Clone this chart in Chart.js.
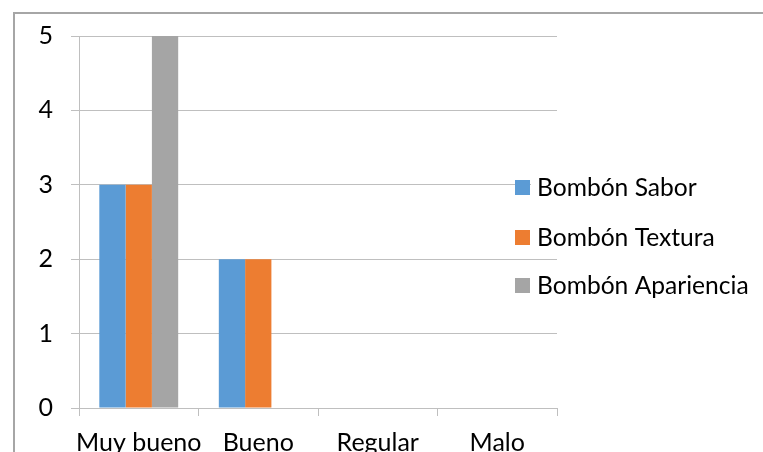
<!DOCTYPE html>
<html>
<head>
<meta charset="utf-8">
<script src="https://cdn.jsdelivr.net/npm/chart.js@4/dist/chart.umd.min.js"></script>
<style>
html,body{margin:0;padding:0;background:#fff;overflow:hidden;}
#wrap{position:relative;width:763px;height:452px;}
#frame{position:absolute;left:13px;top:12px;width:760px;height:460px;border-top:2px solid #A6A6A6;border-left:2px solid #A6A6A6;box-sizing:border-box;}
canvas{position:absolute;left:0;top:0;}
</style>
</head>
<body>
<div id="wrap">
<div id="frame"></div>
<canvas id="c" width="763" height="452"></canvas>
</div>
<script>
const categories = ["Muy bueno", "Bueno", "Regular", "Malo"];
const seriesNames = ["Bombón Sabor", "Bombón Textura", "Bombón Apariencia"];
const sabor = [3, 2, 0, 0];
const textura = [3, 2, 0, 0];
const apariencia = [5, 0, 0, 0];
const yTicks = [0, 1, 2, 3, 4, 5];
const colors = ["#5B9BD5", "#ED7D31", "#A5A5A5"];

const FONT = "Lato, 'Open Sans', sans-serif";

const legendPlugin = {
  id: "sideLegend",
  afterDraw(chart) {
    const ctx = chart.ctx;
    const rows = [187, 237, 285];
    ctx.save();
    ctx.font = "24.6px " + FONT;
    ctx.textBaseline = "middle";
    chart.data.datasets.forEach((ds, i) => {
      const y = rows[i];
      const w = ctx.measureText(ds.label).width;
      ctx.fillStyle = "#fff";
      ctx.fillRect(531, y - 12, w + 8, 24);
      ctx.fillStyle = ds.backgroundColor;
      ctx.fillRect(515, y - 7, 15, 15);
      ctx.fillStyle = "#000";
      ctx.fillText(ds.label, 537, y + 1);
    });
    ctx.restore();
  }
};

new Chart(document.getElementById("c"), {
  type: "bar",
  data: {
    labels: categories,
    datasets: [
      { label: seriesNames[0], data: sabor, backgroundColor: colors[0] },
      { label: seriesNames[1], data: textura, backgroundColor: colors[1] },
      { label: seriesNames[2], data: apariencia, backgroundColor: colors[2] }
    ]
  },
  options: {
    responsive: false,
    devicePixelRatio: 1,
    animation: false,
    layout: { padding: { top: 36, right: 206, left: 0, bottom: 0 } },
    datasets: { bar: { barPercentage: 1, categoryPercentage: 0.66 } },
    plugins: { legend: { display: false }, tooltip: { enabled: false } },
    scales: {
      x: {
        grid: { offset: true, drawOnChartArea: false, tickLength: 8, color: "#BFBFBF", lineWidth: 1 },
        border: { color: "#BFBFBF" },
        ticks: { font: { family: FONT, size: 25 }, color: "#000", padding: 12, maxRotation: 0, minRotation: 0, autoSkip: false },
        afterFit(s) { s.height = 44; }
      },
      y: {
        min: 0, max: 5,
        afterBuildTicks(s) { s.ticks = yTicks.map(v => ({ value: v })); },
        grid: { color: "#BFBFBF", tickLength: 8, lineWidth: 1 },
        border: { color: "#BFBFBF" },
        ticks: { font: { family: FONT, size: 25 }, color: "#000", padding: 18 },
        afterFit(s) { s.width = 79; }
      }
    }
  },
  plugins: [legendPlugin]
});
</script>
</body>
</html>
